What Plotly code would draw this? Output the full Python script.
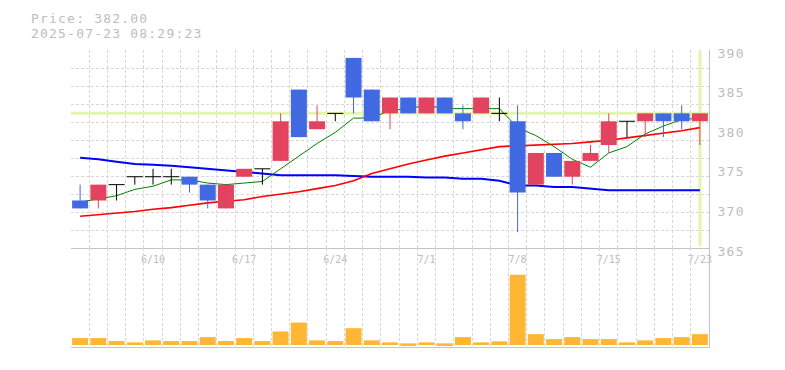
import plotly.graph_objects as go

# ---------------- data ----------------
dates = ["6/4", "6/5", "6/6", "6/9", "6/10", "6/11", "6/12", "6/13", "6/16", "6/17",
         "6/18", "6/19", "6/20", "6/23", "6/24", "6/25", "6/26", "6/27", "6/30", "7/1",
         "7/2", "7/3", "7/4", "7/7", "7/8", "7/9", "7/10", "7/11", "7/14", "7/15",
         "7/16", "7/17", "7/18", "7/22", "7/23"]
opens = [371, 371, 373, 374, 374, 374, 374, 373, 370, 374,
         375, 376, 385, 380, 382, 389, 385, 382, 384, 382,
         384, 382, 382, 382, 381, 373, 377, 374, 376, 378,
         381, 381, 382, 382, 381]
highs = [373, 373, 373, 374, 375, 375, 374, 373, 373, 375,
         375, 382, 385, 383, 382, 389, 385, 384, 384, 384,
         384, 383, 384, 384, 383, 377, 377, 376, 378, 382,
         381, 382, 382, 383, 382]
lows = [370, 370, 371, 373, 373, 373, 372, 370, 370, 374,
        373, 376, 379, 380, 381, 382, 381, 380, 382, 382,
        382, 380, 382, 381, 367, 373, 374, 373, 376, 377,
        379, 379, 379, 380, 378]
closes = [370, 373, 373, 374, 374, 374, 373, 371, 373, 375,
          375, 381, 379, 381, 382, 384, 381, 384, 382, 384,
          382, 381, 384, 382, 372, 377, 374, 376, 377, 381,
          381, 382, 381, 381, 382]
volumes = [70000, 70000, 40000, 27000, 47000, 40000, 40000, 80000, 40000, 70000,
           40000, 137000, 227000, 47000, 40000, 170000, 47000, 27000, 17000, 27000,
           17000, 80000, 27000, 37000, 710000, 110000, 60000, 80000, 60000, 60000,
           27000, 47000, 70000, 80000, 110000]
ma_short = [370.8, 371.2, 371.6, 372.4, 372.8, 373.6, 373.6, 373.2, 373.0, 373.2,
            373.4, 375.0, 376.6, 378.2, 379.6, 381.4, 381.4, 382.4, 382.6, 383.0,
            382.6, 382.6, 382.6, 382.6, 380.2, 379.2, 377.8, 376.2, 375.2, 377.0,
            377.8, 379.4, 380.4, 381.2, 381.4]
ma_mid = [369.0, 369.2, 369.4, 369.6, 369.9, 370.1, 370.4, 370.7, 370.9, 371.1,
          371.5, 371.8, 372.1, 372.5, 372.9, 373.5, 374.4, 375.0, 375.6, 376.1,
          376.6, 377.0, 377.4, 377.8, 377.9, 378.0, 378.1, 378.2, 378.4, 378.6,
          378.9, 379.2, 379.5, 379.8, 380.2]
ma_long = [376.4, 376.2, 375.9, 375.6, 375.5, 375.4, 375.2, 375.0, 374.8, 374.6,
           374.4, 374.2, 374.2, 374.2, 374.2, 374.1, 374.0, 374.0, 374.0, 373.9,
           373.9, 373.75, 373.75, 373.5, 372.9, 372.9, 372.7, 372.7, 372.5, 372.3,
           372.3, 372.3, 372.3, 372.3, 372.3]
tick_labels = ["6/10", "6/17", "6/24", "7/1", "7/8", "7/15", "7/23"]
price_ticks = [365, 370, 375, 380, 385, 390]
price_range = [365, 390]
current_price = 382.00
timestamp = "2025-07-23 08:29:23"

# ---------------- styling ----------------
RED = "#e2435f"
BLUE = "#4169e1"
BLACK = "#000000"
VOL = "#ffb733"
GRID = "#d8d8d8"
AXLINE = "#c4c4c4"
TXT = "#bdbdbd"
HIL = "#e3f3b0"
MONO = "DejaVu Sans Mono"
BODY_W = 0.878
SPACED = '<span style="letter-spacing:1.2px">{}</span>'

xs = list(range(len(dates)))
tickvals = [dates.index(t) for t in tick_labels]
n = len(xs)


def direction_color(i):
    if closes[i] > opens[i]:
        return RED
    if closes[i] < opens[i]:
        return BLUE
    return BLACK


colors = [direction_color(i) for i in xs]

fig = go.Figure()

# current-price marker lines (under everything else)
fig.add_trace(go.Scatter(x=[-0.5, n - 0.5], y=[current_price, current_price], mode="lines",
                         line=dict(color=HIL, width=3), xaxis="x", yaxis="y", hoverinfo="skip"))
fig.add_trace(go.Scatter(x=[xs[-1], xs[-1]], y=[price_range[0] + 0.25, price_range[1]],
                         mode="lines", line=dict(color=HIL, width=3),
                         xaxis="x", yaxis="y", hoverinfo="skip"))

# moving averages (main price subplot)
fig.add_trace(go.Scatter(x=xs, y=ma_long, mode="lines", line=dict(color="#0000ff", width=2),
                         xaxis="x", yaxis="y", hoverinfo="skip"))
fig.add_trace(go.Scatter(x=xs, y=ma_mid, mode="lines", line=dict(color="#ff0000", width=1.6),
                         xaxis="x", yaxis="y", hoverinfo="skip"))
fig.add_trace(go.Scatter(x=xs, y=ma_short, mode="lines", line=dict(color="#008000", width=1),
                         xaxis="x", yaxis="y", hoverinfo="skip"))

# candle bodies (overlay subplot so candles sit above the lines)
body_idx = [i for i in xs if closes[i] != opens[i]]
fig.add_trace(go.Bar(
    x=body_idx,
    base=[min(opens[i], closes[i]) for i in body_idx],
    y=[abs(closes[i] - opens[i]) for i in body_idx],
    width=BODY_W,
    marker=dict(color=[colors[i] for i in body_idx], line=dict(width=0)),
    xaxis="x", yaxis="y3", hoverinfo="skip"))

# wicks, one trace per colour
for col in (RED, BLUE, BLACK):
    wx, wy = [], []
    for i in xs:
        if colors[i] == col:
            wx += [i, i, None]
            wy += [lows[i], highs[i], None]
    fig.add_trace(go.Scatter(x=wx, y=wy, mode="lines", line=dict(color=col, width=1),
                             xaxis="x", yaxis="y3", hoverinfo="skip"))

# doji bars (open == close)
dx, dy = [], []
for i in xs:
    if closes[i] == opens[i]:
        dx += [i - BODY_W / 2, i + BODY_W / 2, None]
        dy += [opens[i], opens[i], None]
fig.add_trace(go.Scatter(x=dx, y=dy, mode="lines", line=dict(color=BLACK, width=1),
                         xaxis="x", yaxis="y3", hoverinfo="skip"))

# volume
fig.add_trace(go.Bar(x=xs, y=volumes, width=BODY_W, marker=dict(color=VOL, line=dict(width=0)),
                     xaxis="x2", yaxis="y2", hoverinfo="skip"))

vmax = max(volumes)
R = vmax / 0.71

grid_minor_x = dict(tickmode="linear", tick0=-0.5, dtick=1, showgrid=True,
                    gridcolor=GRID, griddash="3px,2px", gridwidth=1, ticks="")

fig.update_layout(
    width=785, height=370,
    margin=dict(l=71, r=76, t=50, b=20, pad=0),
    paper_bgcolor="white", plot_bgcolor="white",
    showlegend=False,
    barmode="overlay",
    xaxis=dict(
        domain=[0, 1], anchor="y", range=[-0.5, n - 0.5],
        tickmode="array", tickvals=tickvals, ticktext=tick_labels,
        showgrid=False, zeroline=False, ticks="",
        minor=grid_minor_x,
        showline=True, linecolor=AXLINE, linewidth=1,
        tickfont=dict(family=MONO, size=10, color=TXT),
        ticklabelstandoff=2, fixedrange=True,
    ),
    xaxis2=dict(
        domain=[0, 1], anchor="y2", matches="x", range=[-0.5, n - 0.5],
        showticklabels=False, tickmode="linear", tick0=-0.5, dtick=1,
        showgrid=True, gridcolor=GRID, griddash="3px,2px", gridwidth=1,
        zeroline=False, ticks="",
        showline=True, linecolor=AXLINE, linewidth=1,
    ),
    yaxis=dict(
        domain=[1 / 3, 1], anchor="x", range=price_range, side="right",
        tickmode="array", tickvals=price_ticks,
        ticktext=[SPACED.format(v) for v in price_ticks],
        showgrid=False, zeroline=False, ticks="",
        minor=dict(tickmode="linear", tick0=price_range[0],
                   dtick=(price_range[1] - price_range[0]) / 11, showgrid=True,
                   gridcolor=GRID, griddash="3px,2px", gridwidth=1, ticks=""),
        showline=True, linecolor=AXLINE, linewidth=1,
        tickfont=dict(family=MONO, size=13, color=TXT),
        ticklabelstandoff=5, ticklabelshift=3,
    ),
    yaxis3=dict(
        overlaying="y", anchor="x", range=price_range, side="right",
        showticklabels=False, showgrid=False, zeroline=False, ticks="", showline=False,
    ),
    yaxis2=dict(
        domain=[0, 1 / 3], anchor="x2", range=[-0.02 * R, 0.98 * R], side="right",
        showticklabels=False, showgrid=False, zeroline=False, ticks="",
        showline=True, linecolor=AXLINE, linewidth=1,
    ),
    annotations=[
        dict(text=SPACED.format(f"Price: {current_price:.2f}"), xref="paper", yref="paper",
             x=(29 - 71) / 638, y=(350 - 18) / 300, xanchor="left", yanchor="middle",
             showarrow=False, font=dict(family=MONO, size=13, color=TXT)),
        dict(text=SPACED.format(timestamp), xref="paper", yref="paper",
             x=(29 - 71) / 638, y=(350 - 33) / 300, xanchor="left", yanchor="middle",
             showarrow=False, font=dict(family=MONO, size=13, color=TXT)),
    ],
)

fig.write_html("out.html")
